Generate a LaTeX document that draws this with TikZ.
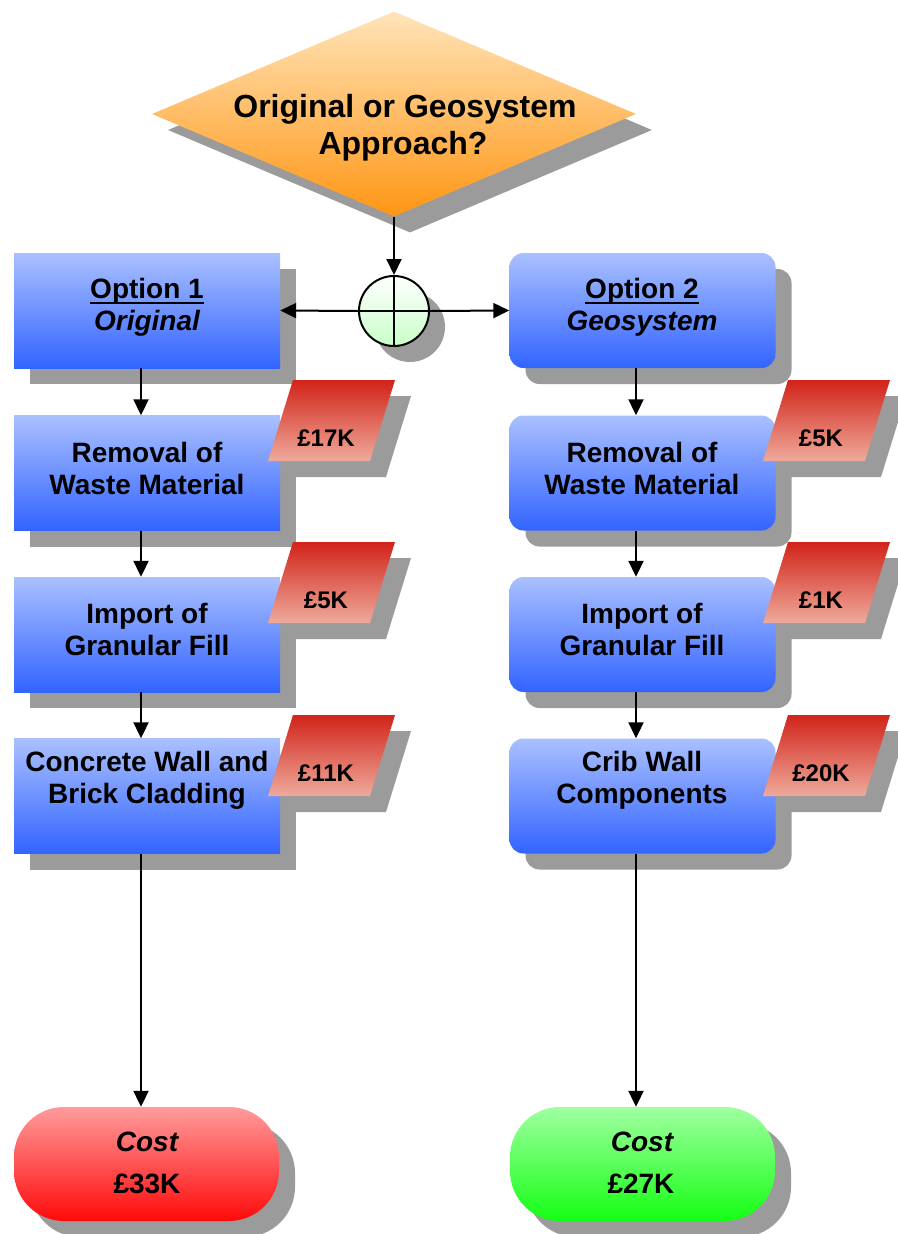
\documentclass[tikz,border=0pt]{standalone}
\usepackage{fontspec}
\setmainfont{Liberation Sans}
\usetikzlibrary{arrows.meta,shapes.geometric,shadows}
\definecolor{boxtop}{RGB}{170,192,255}
\definecolor{boxbot}{RGB}{50,100,255}
\definecolor{dtop}{RGB}{255,228,185}
\definecolor{dbot}{RGB}{255,150,20}
\definecolor{tagtop}{RGB}{210,35,25}
\definecolor{tagbot}{RGB}{238,170,155}
\definecolor{redtop}{RGB}{255,155,155}
\definecolor{redbot}{RGB}{255,10,10}
\definecolor{greentop}{RGB}{160,255,160}
\definecolor{greenbot}{RGB}{20,255,20}
\definecolor{circbot}{RGB}{200,255,200}
\definecolor{shadowbase}{RGB}{155,155,155}
\tikzset{
  shadowed/.style={drop shadow={shadow xshift=16pt, shadow yshift=-16pt, opacity=1, fill=shadowbase}},
  box/.style={rectangle, minimum width=266pt, minimum height=115pt, inner sep=0pt, top color=boxtop, bottom color=boxbot, shadowed},
  rbox/.style={box, rounded corners=14pt},
  costbox/.style={rectangle, rounded corners=50pt, minimum width=265pt, minimum height=114pt, inner sep=0pt, shadowed},
  txt/.style={font=\fontsize{28pt}{32pt}\selectfont\bfseries, inner sep=0pt, anchor=base},
  txtit/.style={font=\fontsize{28pt}{32pt}\selectfont\bfseries\itshape, inner sep=0pt, anchor=base},
  dtxt/.style={font=\fontsize{32pt}{38pt}\selectfont\bfseries, inner sep=0pt, anchor=base},
  tagtxt/.style={font=\fontsize{24pt}{28pt}\selectfont\bfseries, inner sep=0pt, anchor=base},
  arr/.style={line width=2pt, -{Triangle[length=16pt,width=15pt]}},
}
\newcommand\costtag[4]{%
  \fill[shadowbase] (#1+16,#2+16) -- (#1+118,#2+16) -- (#1+143,#2-65) -- (#1+41,#2-65) -- cycle;
  \shade[top color=tagtop,bottom color=tagbot] (#1,#2) -- (#1+102,#2) -- (#1+127,#2-81) -- (#1+25,#2-81) -- cycle;
  \node[tagtxt] (#3) at (#1+58,#2-15) {#4};
}
\begin{document}
\begin{tikzpicture}[x=1pt,y=-1pt]
\useasboundingbox (0,0) rectangle (897,1234);

% decision diamond
\node[diamond, minimum width=484pt, minimum height=205pt, inner sep=0pt, top color=dtop, bottom color=dbot, shadowed] (d) at (394,114) {};
\node[dtxt] (da) at (405,117) {Original or Geosystem};
\node[dtxt] (db) at (403,154) {Approach?};

% junction
\node[circle, minimum size=70pt, inner sep=0pt, draw, line width=2pt, top color=white, bottom color=circbot, shadowed] (c) at (394,311) {};
\draw[line width=2pt] (c.north) -- (c.south) (c.west) -- (c.east);

% left column
\node[box] (o1) at (147,310.5) {};
\node[txt] (o1a) at (147,298) {Option 1};
\draw[line width=2pt] ([yshift=-5pt]o1a.base west) -- ([yshift=-5pt]o1a.base east);
\node[txtit] (o1b) at (147,330) {Original};

\node[box] (r1) at (147,473) {};
\node[txt] (r1a) at (147,462) {Removal of};
\node[txt] (r1b) at (147,494) {Waste Material};

\node[box] (i1) at (147,634.5) {};
\node[txt] (i1a) at (147,623) {Import of};
\node[txt] (i1b) at (147,655) {Granular Fill};

\node[box] (c1) at (147,796) {};
\node[txt] (c1a) at (147,771) {Concrete Wall and};
\node[txt] (c1b) at (147,803) {Brick Cladding};

% right column
\node[rbox] (o2) at (642.5,310.5) {};
\node[txt] (o2a) at (642,298) {Option 2};
\draw[line width=2pt] ([yshift=-5pt]o2a.base west) -- ([yshift=-5pt]o2a.base east);
\node[txtit] (o2b) at (642,330) {Geosystem};

\node[rbox] (r2) at (642.5,473) {};
\node[txt] (r2a) at (642,462) {Removal of};
\node[txt] (r2b) at (642,494) {Waste Material};

\node[rbox] (i2) at (642.5,634.5) {};
\node[txt] (i2a) at (642,623) {Import of};
\node[txt] (i2b) at (642,655) {Granular Fill};

\node[rbox] (w2) at (642.5,796) {};
\node[txt] (w2a) at (642,771) {Crib Wall};
\node[txt] (w2b) at (642,803) {Components};

% cost tags
\costtag{268}{461}{t1}{£17K}
\costtag{268}{623}{t2}{£5K}
\costtag{268}{796}{t3}{£11K}
\costtag{763}{461}{t4}{£5K}
\costtag{763}{623}{t5}{£1K}
\costtag{763}{796}{t6}{£20K}

% cost terminators
\node[costbox, top color=redtop, bottom color=redbot] (k1) at (146.5,1164) {};
\node[txtit] (k1a) at (147,1151) {Cost};
\node[txt] (k1b) at (147,1193) {£33K};
\node[costbox, top color=greentop, bottom color=greenbot] (k2) at (642.5,1164) {};
\node[txtit] (k2a) at (642,1151) {Cost};
\node[txt] (k2b) at (641,1193) {£27K};

% connectors
\draw[arr] (d.south) -- (c.north);
\draw[arr] (c.west) -- (o1.east);
\draw[arr] (c.east) -- (o2.west);
\draw[arr] ([xshift=-6pt]o1.south) -- ([xshift=-6pt]r1.north);
\draw[arr] ([xshift=-6pt]r1.south) -- ([xshift=-6pt]i1.north);
\draw[arr] ([xshift=-6pt]i1.south) -- ([xshift=-6pt]c1.north);
\draw[arr] ([xshift=-6pt]c1.south) -- ([xshift=-6pt]c1.south |- k1.north);
\draw[arr] ([xshift=-6.5pt]o2.south) -- ([xshift=-6.5pt]r2.north);
\draw[arr] ([xshift=-6.5pt]r2.south) -- ([xshift=-6.5pt]i2.north);
\draw[arr] ([xshift=-6.5pt]i2.south) -- ([xshift=-6.5pt]w2.north);
\draw[arr] ([xshift=-6.5pt]w2.south) -- ([xshift=-6.5pt]w2.south |- k2.north);
\end{tikzpicture}
\end{document}
